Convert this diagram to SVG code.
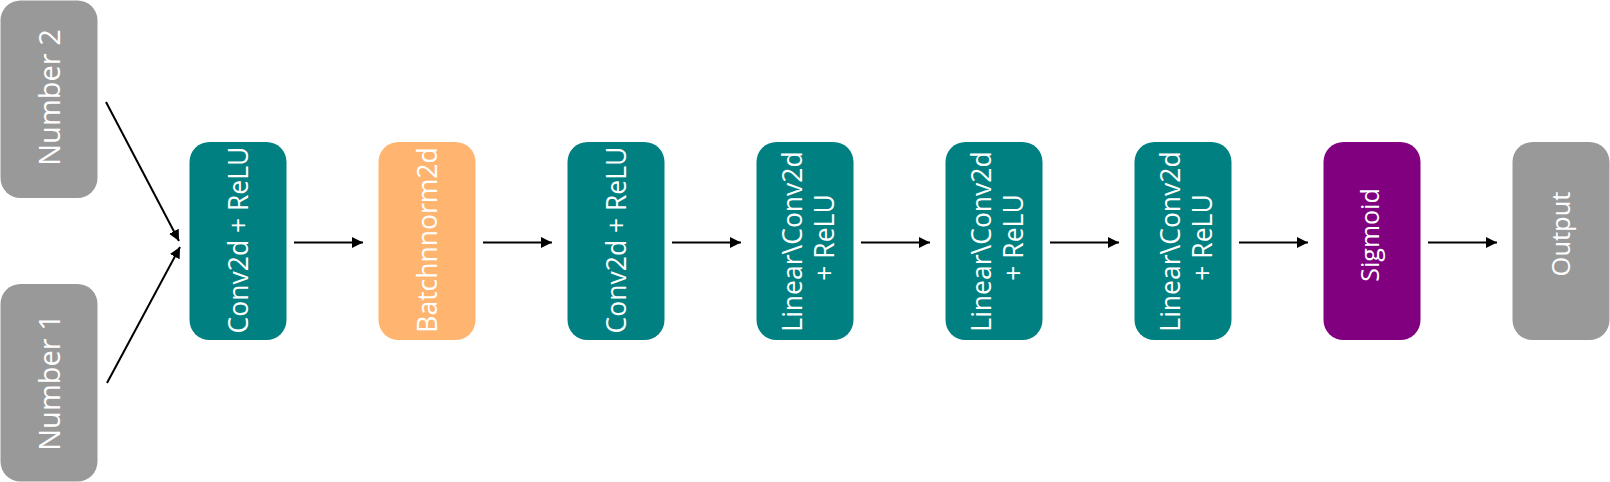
<svg xmlns="http://www.w3.org/2000/svg" width="1610" height="482" viewBox="0 0 1610 482">
<style>
.box{rx:20;ry:20}
.teal{fill:#008080}
.gray{fill:#999999}
.orange{fill:#FFB570}
.purple{fill:#800080}
.lbl{font-family:"Open Sans","Noto Sans",sans-serif;font-size:26.5px;fill:#ffffff;text-anchor:middle}
.big{font-size:29px}
.sm{font-size:25px}
.edge{stroke:#000000;stroke-width:2;fill:none;marker-end:url(#arr)}
</style>
<defs>
<marker id="arr" viewBox="0 0 10 10" refX="10" refY="5" markerWidth="5.5" markerHeight="5.5" orient="auto" markerUnits="strokeWidth">
<path d="M0,0 L10,5 L0,10 z" fill="#000000"/>
</marker>
</defs>
<g id="number2"><rect class="box gray" x="0.5" y="0.5" width="97" height="197.5"/><text class="lbl big" transform="translate(60,97.5) rotate(-90)">Number 2</text></g>
<g id="number1"><rect class="box gray" x="0.5" y="284" width="97" height="197.5"/><text class="lbl big" transform="translate(60,382.5) rotate(-90)">Number 1</text></g>
<g id="conv1"><rect class="box teal" x="189.5" y="142" width="97" height="198"/><text class="lbl" transform="translate(248,240) rotate(-90)">Conv2d + ReLU</text></g>
<g id="batchnorm"><rect class="box orange" x="378.5" y="142" width="97" height="198"/><text class="lbl" transform="translate(437,240) rotate(-90)">Batchnnorm2d</text></g>
<g id="conv2"><rect class="box teal" x="567.5" y="142" width="97" height="198"/><text class="lbl" transform="translate(626,240) rotate(-90)">Conv2d + ReLU</text></g>
<g id="linear1"><rect class="box teal" x="756.5" y="142" width="97" height="198"/><text class="lbl" transform="translate(802,241.5) rotate(-90)">Linear\Conv2d</text><text class="lbl" transform="translate(834,237.5) rotate(-90)">+ ReLU</text></g>
<g id="linear2"><rect class="box teal" x="945.5" y="142" width="97" height="198"/><text class="lbl" transform="translate(991,241.5) rotate(-90)">Linear\Conv2d</text><text class="lbl" transform="translate(1023,237.5) rotate(-90)">+ ReLU</text></g>
<g id="linear3"><rect class="box teal" x="1134.5" y="142" width="97" height="198"/><text class="lbl" transform="translate(1180,241.5) rotate(-90)">Linear\Conv2d</text><text class="lbl" transform="translate(1212,237.5) rotate(-90)">+ ReLU</text></g>
<g id="sigmoid"><rect class="box purple" x="1323.5" y="142" width="97" height="198"/><text class="lbl sm" transform="translate(1379,235) rotate(-90)">Sigmoid</text></g>
<g id="output"><rect class="box gray" x="1512.5" y="142" width="97" height="198"/><text class="lbl" style="font-size:25.5px" transform="translate(1570,234) rotate(-90)">Output</text></g>
<g id="connectors">
<line class="edge" x1="106" y1="102" x2="179" y2="241"/>
<line class="edge" x1="107" y1="383" x2="180" y2="247"/>
<line class="edge" x1="294" y1="242.5" x2="363" y2="242.5"/>
<line class="edge" x1="483" y1="242.5" x2="552" y2="242.5"/>
<line class="edge" x1="672" y1="242.5" x2="741" y2="242.5"/>
<line class="edge" x1="861" y1="242.5" x2="930" y2="242.5"/>
<line class="edge" x1="1050" y1="242.5" x2="1119" y2="242.5"/>
<line class="edge" x1="1239" y1="242.5" x2="1308" y2="242.5"/>
<line class="edge" x1="1428" y1="242.5" x2="1497" y2="242.5"/>
</g>
</svg>
